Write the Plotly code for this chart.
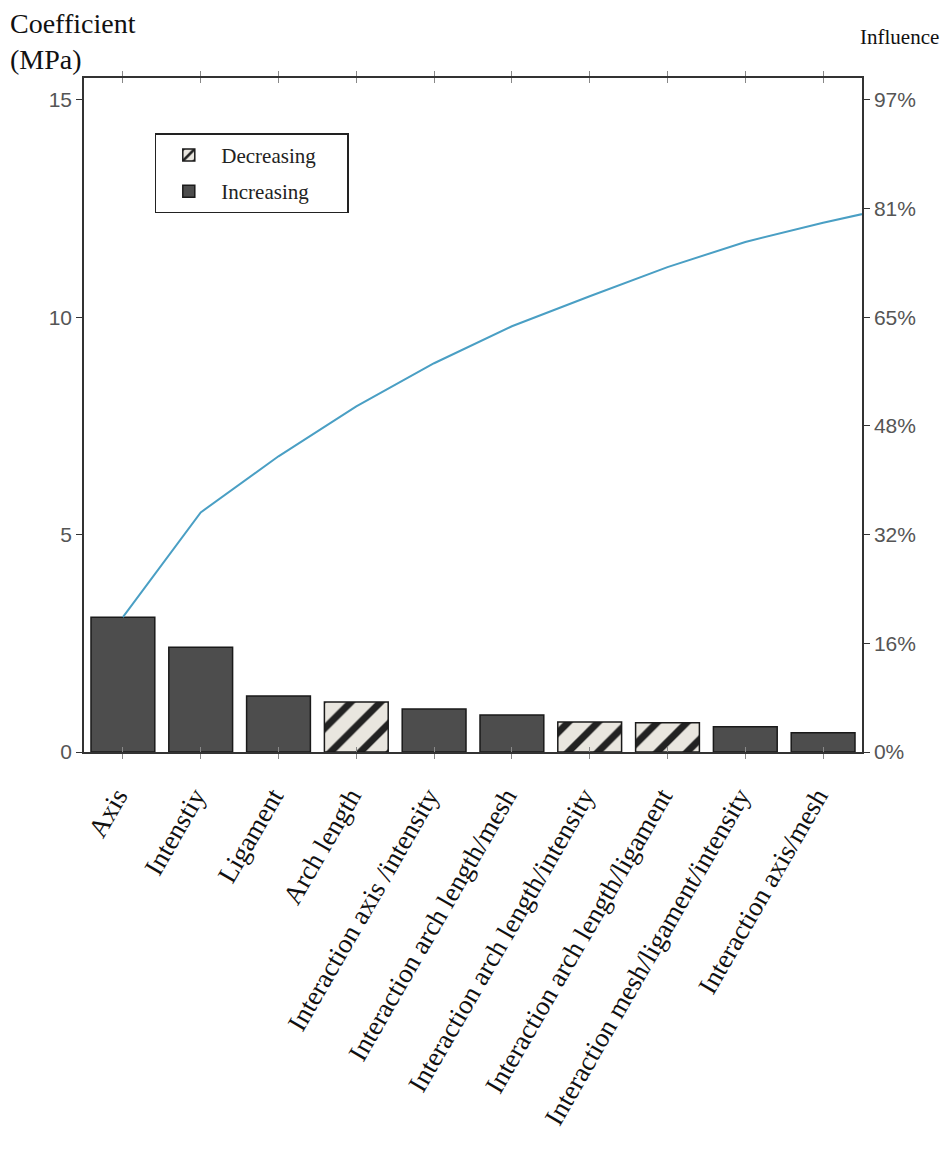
import numpy as np
import plotly.graph_objects as go

# ---- data ----
categories = [
    "Axis", "Intenstiy", "Ligament", "Arch length", "Interaction axis /intensity",
    "Interaction arch length/mesh", "Interaction arch length/intensity",
    "Interaction arch length/ligament", "Interaction mesh/ligament/intensity",
    "Interaction axis/mesh",
]
coefficients = [3.10, 2.41, 1.29, 1.15, 0.99, 0.85, 0.69, 0.67, 0.58, 0.44]
direction = ["Increasing", "Increasing", "Increasing", "Decreasing", "Increasing",
             "Increasing", "Decreasing", "Decreasing", "Increasing", "Increasing"]
next_effect = 0.40          # following (not shown) effect, line runs to the axis edge
total_effect = 15.5         # sum of all effects (100 % influence)
left_ticks = [0, 5, 10, 15]
influence_ticks = [0, 2.5, 5, 7.5, 10, 12.5, 15]

x_idx = list(range(len(categories)))
cum = np.cumsum(coefficients + [next_effect])
cum_pct = cum / total_effect * 100
line_x = list(range(len(cum)))

SERIF = "Liberation Serif, Times New Roman, serif"
SANS = "Liberation Sans, Arial, sans-serif"
PAD = "\u00a0" * 5

W, H = 934, 1144
L, T, PW, PH = 76, 70, 778, 674

fig = go.Figure()

for name in ["Decreasing", "Increasing"]:
    xs = [i for i, d in zip(x_idx, direction) if d == name]
    ys = [c for c, d in zip(coefficients, direction) if d == name]
    if name == "Decreasing":
        marker = dict(color="#e9e6df",
                      line=dict(color="#1a1a1a", width=1.5),
                      pattern=dict(shape="/", fgcolor="#222222", bgcolor="#e9e6df",
                                   size=21, solidity=0.33, fillmode="replace"))
    else:
        marker = dict(color="#4d4d4d", line=dict(color="#1a1a1a", width=1.5))
    fig.add_trace(go.Bar(x=xs, y=ys, name=name + PAD, width=0.82, marker=marker,
                         legendgroup=name, yaxis="y"))

fig.add_trace(go.Scatter(x=line_x, y=cum_pct, mode="lines", yaxis="y2",
                         line=dict(color="#4a9fc4", width=2), showlegend=False))

fig.update_layout(
    width=W, height=H,
    margin=dict(l=L, r=W - L - PW, t=T, b=H - T - PH, autoexpand=False),
    paper_bgcolor="white", plot_bgcolor="white",
    barmode="overlay",
    showlegend=True,
    legend=dict(x=0.091, y=0.918, xanchor="left", yanchor="top",
                bordercolor="#222222", borderwidth=1.5, bgcolor="white",
                font=dict(family=SERIF, size=21, color="#222"),
                traceorder="grouped", itemwidth=55, tracegroupgap=6),
    xaxis=dict(range=[-0.5, 9.5], tickmode="array", tickvals=x_idx,
               ticktext=categories, tickangle=-60, automargin=False,
               tickfont=dict(family=SERIF, size=27, color="#111"),
               ticklabelstandoff=16, ticklabelshift=-6,
               ticks="inside", ticklen=5, tickcolor="#888",
               showline=True, linecolor="#333", linewidth=1.5,
               mirror="allticks", showgrid=False, zeroline=False),
    yaxis=dict(range=[0, total_effect], tickmode="array", tickvals=left_ticks,
               ticktext=[str(v) for v in left_ticks], automargin=False,
               tickfont=dict(family=SANS, size=21, color="#555"),
               ticks="outside", ticklen=6, tickcolor="#333",
               showline=True, linecolor="#333", linewidth=1.5,
               showgrid=False, zeroline=False),
    yaxis2=dict(range=[0, 100], overlaying="y", side="right", tickmode="array",
                tickvals=[v / total_effect * 100 for v in influence_ticks],
                ticktext=[f"{round(v / total_effect * 100)}%" for v in influence_ticks],
                automargin=False,
                tickfont=dict(family=SANS, size=21, color="#555"),
                ticks="outside", ticklen=6, tickcolor="#333",
                showline=True, linecolor="#333", linewidth=1.5,
                showgrid=False, zeroline=False),
    annotations=[
        dict(text="Coefficient<br>(MPa)", xref="paper", yref="paper",
             x=(0 - L) / PW, y=1 + (T + 2) / PH, xanchor="left", yanchor="top",
             align="left", showarrow=False,
             font=dict(family=SERIF, size=28, color="#111")),
        dict(text="Influence", xref="paper", yref="paper",
             x=(W - 1 - L) / PW, y=1 + (T - 29) / PH, xanchor="right",
             yanchor="middle", showarrow=False,
             font=dict(family=SERIF, size=21, color="#111")),
    ],
)

fig.write_html("out.html")
